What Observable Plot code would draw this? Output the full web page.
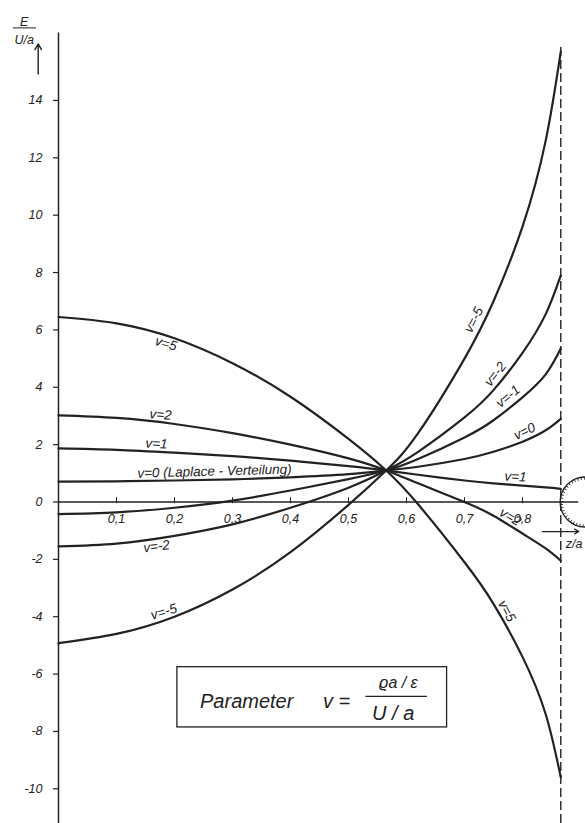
<!DOCTYPE html>
<html><head><meta charset="utf-8">
<script src="https://cdn.jsdelivr.net/npm/d3@7"></script>
<script src="https://cdn.jsdelivr.net/npm/@observablehq/plot@0.6"></script>
<style>
html,body{margin:0;padding:0;background:#fff;}
#chart svg{display:block;}
</style></head><body><div id="chart"></div>
<script>
// z/a positions where the curves were read
const zPoints = [0, 0.1, 0.2, 0.3, 0.4, 0.5, 0.565, 0.62, 0.7, 0.75, 0.8, 0.84, 0.866];
// E/(U/a) for each parameter v
const e_nu5  = [6.45, 6.23, 5.71, 4.84, 3.67, 2.2, 1.1, -0.08, -2.1, -3.55, -5.4, -7.4, -9.6];
const e_nu2  = [3.02, 2.93, 2.72, 2.4, 2.0, 1.52, 1.1, 0.65, 0.0, -0.48, -1.1, -1.62, -2.05];
const e_nu1  = [1.87, 1.82, 1.72, 1.6, 1.44, 1.25, 1.1, 0.95, 0.75, 0.65, 0.57, 0.51, 0.46];
const e_nu0  = [0.71, 0.72, 0.75, 0.79, 0.86, 0.97, 1.1, 1.23, 1.5, 1.75, 2.1, 2.5, 2.9];
const e_nuM1 = [-0.42, -0.36, -0.2, 0.05, 0.4, 0.8, 1.1, 1.5, 2.25, 2.85, 3.65, 4.45, 5.35];
const e_nuM2 = [-1.55, -1.45, -1.18, -0.78, -0.2, 0.5, 1.1, 1.75, 2.95, 3.9, 5.2, 6.55, 7.9];
const e_nuM5 = [-4.92, -4.6, -4.0, -3.05, -1.75, -0.1, 1.1, 2.4, 5.0, 7.0, 9.6, 12.6, 15.7];
const nuValues = [5, 2, 1, 0, -1, -2, -5];
const seriesE = [e_nu5, e_nu2, e_nu1, e_nu0, e_nuM1, e_nuM2, e_nuM5];

const yTicks = [-10, -8, -6, -4, -2, 0, 2, 4, 6, 8, 10, 12, 14];
const xTicks = [0.1, 0.2, 0.3, 0.4, 0.5, 0.6, 0.7, 0.8];
const zEnd = 0.866;

const curveLabels = ["v=5", "v=2", "v=1", "v=0 (Laplace - Verteilung)", "v=-2", "v=-5",
                     "v=-5", "v=-2", "v=-1", "v=0", "v=1", "v=2", "v=5"];
// label placement (annotation layout)
const labelX   = [0.1855, 0.176, 0.169, 0.269, 0.169, 0.1816, 0.716, 0.753, 0.775, 0.8036, 0.788, 0.779, 0.773];
const labelY   = [5.52, 3.04, 2.03, 1.07, -1.55, -3.83, 6.35, 4.46, 3.68, 2.46, 0.88, -0.52, -3.8];
const labelRot = [16, 4, 3, -1.5, -7.6, -17, -63, -52, -40, -26, 3, 31, 62];

const rows = [];
nuValues.forEach((nu, i) => zPoints.forEach((z, j) => rows.push({nu, z, E: seriesE[i][j]})));
const labels = curveLabels.map((t, i) => ({t, x: labelX[i], y: labelY[i], r: labelRot[i]}));

const ink = "#222";
const font = "'Liberation Sans', Arial, sans-serif";
const fmtComma = d => String(d).replace(".", ",");

const chart = Plot.plot({
  width: 585, height: 823,
  marginLeft: 58, marginRight: 5, marginTop: 34, marginBottom: 0,
  x: {domain: [0, 0.9], axis: null},
  y: {domain: [-11.21, 16.3], axis: null},
  style: {fontFamily: font, fontStyle: "italic", background: "#fff", color: ink, overflow: "visible"},
  marks: [
    // axes
    Plot.ruleX([0], {y1: 16.35, y2: -11.21, stroke: ink, strokeWidth: 1.5}),
    Plot.ruleY([0], {x1: 0, x2: 0.897, stroke: ink, strokeWidth: 1.4}),
    Plot.axisY(yTicks, {tickSize: 5, tickPadding: 11, fontSize: 12.5, fontStyle: "italic",
                        tickFormat: d => String(d), stroke: ink, strokeWidth: 1.2}),
    Plot.ruleX(xTicks, {x: d => d, y1: -0.06, y2: 0.15, stroke: ink, strokeWidth: 1}),
    Plot.text(xTicks, {x: d => d, y: 0, dy: 17, text: fmtComma, fontSize: 12.5, fill: ink}),
    // boundary
    Plot.ruleX([zEnd], {y1: 15.85, y2: -11.21, stroke: ink, strokeWidth: 1.4, strokeDasharray: "9,4"}),
    // curves
    Plot.line(rows, {x: "z", y: "E", z: "nu", stroke: ink, strokeWidth: 2.2, curve: "natural"}),
    Plot.text(labels, {x: "x", y: "y", text: "t", rotate: "r", fontSize: 13.5, fill: ink}),
    // y-axis title E / (U/a) with arrow
    Plot.text(["E"], {x: -0.059, y: 16.74, text: d => d, fontSize: 12.5, fill: ink}),
    Plot.ruleY([16.53], {x1: -0.078, x2: -0.038, stroke: ink, strokeWidth: 1}),
    Plot.text(["U/a"], {x: -0.059, y: 16.12, text: d => d, fontSize: 12.5, fill: ink}),
    Plot.arrow([0], {x1: -0.035, x2: -0.035, y1: 14.92, y2: 15.97, stroke: ink, strokeWidth: 1.4, headLength: 7}),
    // electrode sketch at the right
    Plot.dot([0], {x: () => 0.908, y: 0, r: 25, stroke: ink, strokeWidth: 1.3, fill: "none"}),
    Plot.dot([0], {x: () => 0.908, y: 0, r: 23.5, stroke: ink, strokeWidth: 2.5, strokeDasharray: "0.8,2.4", fill: "none"}),
    Plot.arrow([0], {x1: 0.834, x2: 0.897, y1: -1.03, y2: -1.03, stroke: ink, strokeWidth: 1.2, headLength: 6}),
    Plot.text(["z/a"], {x: 0.889, y: -1.48, text: d => d, fontSize: 12.5, fill: ink}),
    // parameter box
    Plot.rect([0], {x1: 0.205, x2: 0.670, y1: -5.76, y2: -7.86, stroke: ink, strokeWidth: 1.3, fill: "none"}),
    Plot.text(["Parameter"], {x: 0.244, y: -6.95, text: d => d, textAnchor: "start", fontSize: 20, fill: ink}),
    Plot.text(["v ="], {x: 0.456, y: -6.95, text: d => d, textAnchor: "start", fontSize: 20, fill: ink}),
    Plot.text(["ϱa / ε"], {x: 0.586, y: -6.32, text: d => d, fontSize: 16, fill: ink}),
    Plot.ruleY([-6.78], {x1: 0.530, x2: 0.636, stroke: ink, strokeWidth: 1.3}),
    Plot.text(["U / a"], {x: 0.577, y: -7.37, text: d => d, fontSize: 20, fill: ink})
  ]
});
document.getElementById("chart").appendChild(chart);
</script>
</body></html>
